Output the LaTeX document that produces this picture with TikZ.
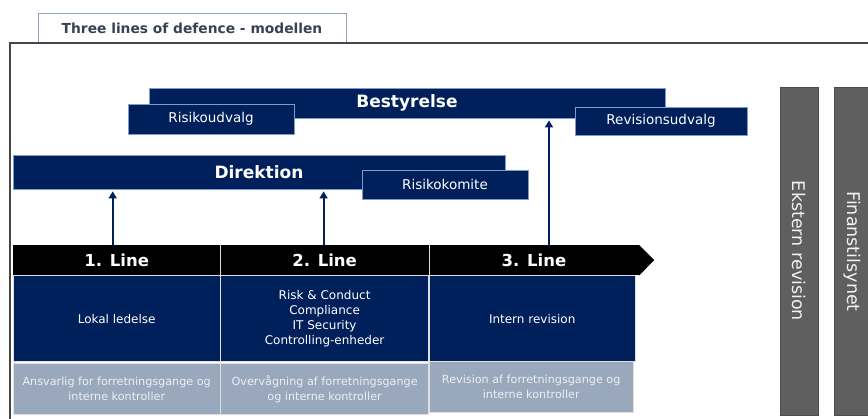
\documentclass[tikz,border=0pt]{standalone}
\usepackage{fontspec}
\setmainfont{DejaVu Sans}
\usepackage{tikz}
\usetikzlibrary{shapes,arrows.meta,positioning}
\definecolor{navy}{RGB}{0, 32, 91}
\definecolor{rim}{RGB}{125, 155, 205}
\definecolor{mist}{RGB}{154, 168, 189}
\definecolor{misttext}{RGB}{236, 239, 244}
\definecolor{slate}{RGB}{95, 95, 95}
\definecolor{tabtext}{RGB}{55, 66, 84}
\definecolor{tabline}{RGB}{140, 160, 195}
\definecolor{frameline}{RGB}{70, 70, 70}
\tikzstyle{board} = [rectangle, draw=rim, line width=0.8pt, fill=navy, text=white, font=\bfseries\fontsize{17}{19}\selectfont, inner sep=0pt]
\tikzstyle{committee} = [rectangle, draw=rim, line width=0.6pt, fill=navy, text=white, font=\fontsize{13.5}{15}\selectfont, inner sep=0pt]
\tikzstyle{head} = [rectangle, fill=black, text=white, font=\bfseries\fontsize{16.5}{18}\selectfont, minimum height=30pt, inner sep=0pt]
\tikzstyle{cell} = [rectangle, draw=white!75!gray, line width=0.6pt, fill=navy, text=white, font=\fontsize{12}{14.7}\selectfont, align=center, minimum height=86pt, inner sep=0pt]
\tikzstyle{note} = [rectangle, draw=white!75!gray, line width=0.6pt, fill=mist, text=misttext, font=\fontsize{11.2}{15}\selectfont, align=center, minimum height=51pt, inner sep=0pt]
\tikzstyle{outside} = [rectangle, draw=black!70, line width=0.6pt, fill=slate, text=white!90!gray, font=\fontsize{17.5}{19}\selectfont, minimum width=328pt, inner sep=0pt, rotate=-90]
\tikzstyle{tab} = [rectangle, draw=tabline, line width=0.8pt, fill=white, text=tabtext, font=\bfseries\fontsize{13.8}{15}\selectfont, minimum width=308pt, minimum height=30pt]
\tikzstyle{tedge}  = [draw, navy, line width=2.2pt, shorten >=2pt, -{Triangle[length=7pt,width=8pt]}]

\begin{document}
\begin{tikzpicture}[x=1pt, y=-1pt]
\useasboundingbox (0,0) rectangle (868,419);

% title and frame =============================
\node[tab] (title) at (192,28) {Three lines of defence - modellen};
\draw[frameline, line width=1.2pt] (10,425) -- (10,43) -- (875,43);

% board and management
\node[board, minimum width=516pt, minimum height=30pt] (best) at (407,103) {Bestyrelse};
\node[committee, minimum width=166pt, minimum height=30pt] (risud) at (211,119) {Risikoudvalg};
\node[committee, minimum width=172pt, minimum height=28pt] (revud) at (661,121) {Revisionsudvalg};
\node[board, minimum width=492pt, minimum height=34pt] (dir) at (259,172) {Direktion};
\node[committee, minimum width=166pt, minimum height=29pt] (riskom) at (445,184.5) {Risikokomite};

% lines
\node[head, minimum width=207pt, anchor=north west] (line1) at (13,245) {1. Line};
\node[head, minimum width=208pt, right=0pt of line1] (line2) {2. Line};
\node[head, minimum width=210pt, right=0pt of line2] (line3) {3. Line};
\fill[black] (line3.north east) -- ([xshift=15pt]line3.east) -- (line3.south east) -- cycle;
\draw[white!75!gray, line width=0.6pt] (line1.north east) -- (line1.south east);
\draw[white!75!gray, line width=0.6pt] (line2.north east) -- (line2.south east);

% units
\node[cell, minimum width=207pt, below=0pt of line1] (unit1) {Lokal ledelse};
\node[cell, minimum width=208pt, below=0pt of line2] (unit2) {Risk \& Conduct\\Compliance\\IT Security\\Controlling-enheder};
\node[cell, minimum width=206pt, anchor=north west] (unit3) at (unit2.north east) {Intern revision};

% tasks
\node[note, minimum width=207pt, below=1pt of unit1] (task1) {Ansvarlig for forretningsgange og\\interne kontroller};
\node[note, minimum width=208pt, below=1pt of unit2] (task2) {Overvågning af forretningsgange\\og interne kontroller};
\node[note, minimum width=204pt, anchor=north west] (task3) at ([yshift=1pt]unit3.south west) {Revision af forretningsgange og\\interne kontroller};

% external
\node[outside, minimum height=38pt] (ekst) at (799,251) {Ekstern revision};
\node[outside, minimum height=36pt] (fin) at (852,251.5) {Finanstilsynet};

%edges
\path[tedge] ([xshift=-4pt]line1.north) -- ([xshift=-4pt]line1.north |- dir.south);
\path[tedge] ([xshift=-1pt]line2.north) -- ([xshift=-1pt]line2.north |- dir.south);
\path[tedge] ([xshift=15pt]line3.north) -- ([xshift=15pt]line3.north |- best.south);

\end{tikzpicture}
\end{document}
